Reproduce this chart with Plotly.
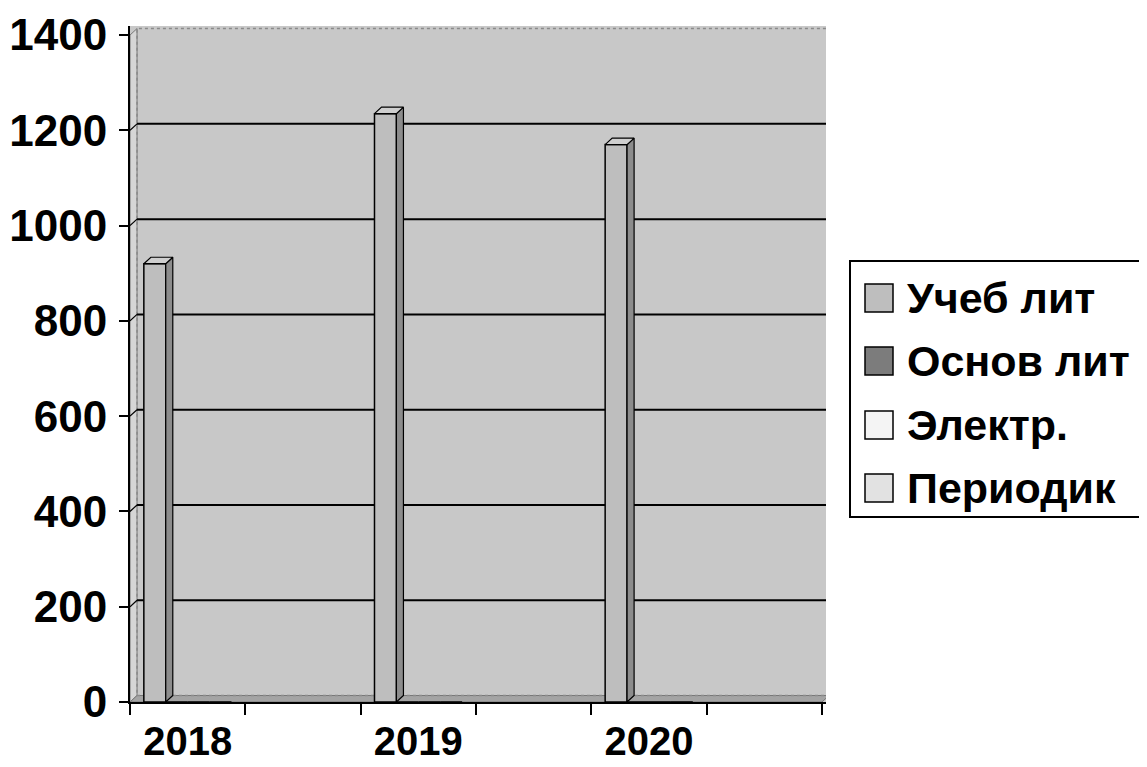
import plotly.graph_objects as go

# ---- data ----
years = ["2018", "2019", "2020"]
series_names = ["Учеб лит", "Основ лит", "Электр.", "Периодик"]
ucheb = [920, 1235, 1170]
osnov = [0, 0, 0]
elektr = [0, 0, 0]
period = [0, 0, 0]
y_ticks = [0, 200, 400, 600, 800, 1000, 1200, 1400]

series_values = [ucheb, osnov, elektr, period]
colors = ["#bebebe", "#7c7c7c", "#f4f4f4", "#e2e2e2"]

# ---- geometry ----
# the page body has an 8px margin, so figure pixels = page pixels - 8
OFF = 8
W, H = 1147 - OFF, 767 - OFF
L, T = 130 - OFF, 26 - OFF
R = W - (826 - OFF)
B = H - (702 - OFF)
PW, PH = W - L - R, H - T - B
n_cat = len(years)
n_ser = len(series_names)
X_MAX_CAT = 2 * n_cat            # category axis in "slots" of 2 units
BARGAP = 0.62
DEPTH_X = 0.061                  # 3-D depth offsets in axis units
DEPTH_Y = 13.6
X_RANGE = [0, X_MAX_CAT + 0.035]
Y_RANGE = [0, 1419]

cat_pos = [2 * i + 0.5 for i in range(n_cat)]
slot = 2 * (1 - BARGAP) / n_ser
cluster = slot * n_ser

FONT = "Liberation Sans, Arial, sans-serif"

fig = go.Figure()

# front faces of bars
for s, (name, vals) in enumerate(zip(series_names, series_values)):
    fig.add_trace(go.Bar(
        x=cat_pos, y=vals, name=name,
        marker=dict(color=colors[s], line=dict(color="black", width=1.5)),
        showlegend=False, hoverinfo="skip",
    ))

# side and top faces (pseudo 3-D), computed from values
for s, vals in enumerate(series_values):
    side_x, side_y, top_x, top_y = [], [], [], []
    for p, v in zip(cat_pos, vals):
        if v <= 0:
            continue
        left = p - cluster / 2 + s * slot
        right = left + slot
        side_x += [right, right + DEPTH_X, right + DEPTH_X, right, right, None]
        side_y += [0, DEPTH_Y, v + DEPTH_Y, v, 0, None]
        top_x += [left, left + DEPTH_X, right + DEPTH_X, right, left, None]
        top_y += [v, v + DEPTH_Y, v + DEPTH_Y, v, v, None]
    if side_x:
        fig.add_trace(go.Scatter(x=side_x, y=side_y, mode="lines", fill="toself",
                                 fillcolor="#8c8c8c", line=dict(color="black", width=1.2),
                                 showlegend=False, hoverinfo="skip"))
        fig.add_trace(go.Scatter(x=top_x, y=top_y, mode="lines", fill="toself",
                                 fillcolor="#cfcfcf", line=dict(color="black", width=1.2),
                                 showlegend=False, hoverinfo="skip"))

shapes = []
# left side wall
shapes.append(dict(type="path", xref="x", yref="y", layer="below",
                   path=f"M0,0 L{DEPTH_X},{DEPTH_Y} L{DEPTH_X},{y_ticks[-1]+DEPTH_Y} L0,{y_ticks[-1]} Z",
                   fillcolor="#d6d6d6", line=dict(color="#777777", width=1)))
# floor
shapes.append(dict(type="path", xref="x", yref="y", layer="below",
                   path=f"M0,0 L{X_MAX_CAT},0 L{X_MAX_CAT+DEPTH_X},{DEPTH_Y} L{DEPTH_X},{DEPTH_Y} Z",
                   fillcolor="#a4a4a4", line=dict(color="#777777", width=1)))
# back wall border
shapes.append(dict(type="rect", xref="x", yref="y", layer="below",
                   x0=DEPTH_X, x1=X_MAX_CAT + DEPTH_X, y0=DEPTH_Y, y1=y_ticks[-1] + DEPTH_Y,
                   fillcolor="rgba(0,0,0,0)", line=dict(color="#8a8a8a", width=1.5, dash="dot")))
# gridlines on back wall + connectors on side wall
for v in y_ticks[1:-1]:
    shapes.append(dict(type="line", xref="x", yref="y", layer="below",
                       x0=DEPTH_X, x1=X_MAX_CAT + DEPTH_X, y0=v + DEPTH_Y, y1=v + DEPTH_Y,
                       line=dict(color="black", width=2)))
    shapes.append(dict(type="line", xref="x", yref="y", layer="below",
                       x0=0, x1=DEPTH_X, y0=v, y1=v + DEPTH_Y,
                       line=dict(color="black", width=1.2)))

# ---- custom legend (paper coords from page pixel positions) ----
def px_x(px):
    return (px - OFF - L) / PW

def px_y(py):
    return (H - B - (py - OFF)) / PH

annotations = []
shapes.append(dict(type="rect", xref="paper", yref="paper",
                   x0=px_x(850), x1=px_x(1160), y0=px_y(261), y1=px_y(517),
                   fillcolor="white", line=dict(color="black", width=2)))
row_y = [298, 361, 425, 488]
for name, col, ry in zip(series_names, colors, row_y):
    shapes.append(dict(type="rect", xref="paper", yref="paper",
                       x0=px_x(865), x1=px_x(893), y0=px_y(ry + 14), y1=px_y(ry - 14),
                       fillcolor=col, line=dict(color="black", width=1.5)))
    annotations.append(dict(xref="paper", yref="paper", x=px_x(905), y=px_y(ry),
                            xanchor="left", yanchor="middle", showarrow=False,
                            text=f"<b>{name}</b>",
                            font=dict(family=FONT, size=43, color="black")))

fig.update_layout(
    width=W, height=H,
    margin=dict(l=L, r=R, t=T, b=B, pad=0, autoexpand=False),
    paper_bgcolor="white",
    plot_bgcolor="#c8c8c8",
    barmode="group", bargap=BARGAP, bargroupgap=0,
    showlegend=False,
    shapes=shapes,
    annotations=annotations,
    font=dict(family=FONT, color="black"),
    xaxis=dict(
        range=X_RANGE, tickmode="array", tickvals=cat_pos, ticktext=years,
        ticks="", showgrid=False, zeroline=False, automargin=False,
        showline=True, linecolor="black", linewidth=2,
        tickfont=dict(family=FONT, size=40, color="black", weight="bold"),
        ticklabelstandoff=3,
        minor=dict(tickmode="array", tickvals=list(range(X_MAX_CAT + 1)),
                   ticks="outside", ticklen=11, tickwidth=2, tickcolor="black",
                   showgrid=False),
        fixedrange=True,
    ),
    yaxis=dict(
        range=Y_RANGE, tickmode="array", tickvals=y_ticks,
        ticks="outside", ticklen=9, tickwidth=2, tickcolor="black",
        showgrid=False, zeroline=False, automargin=False,
        showline=True, linecolor="black", linewidth=2,
        tickfont=dict(family=FONT, size=44, color="black", weight="bold"),
        ticklabelstandoff=3,
        fixedrange=True,
    ),
)

fig.write_html("out.html")
